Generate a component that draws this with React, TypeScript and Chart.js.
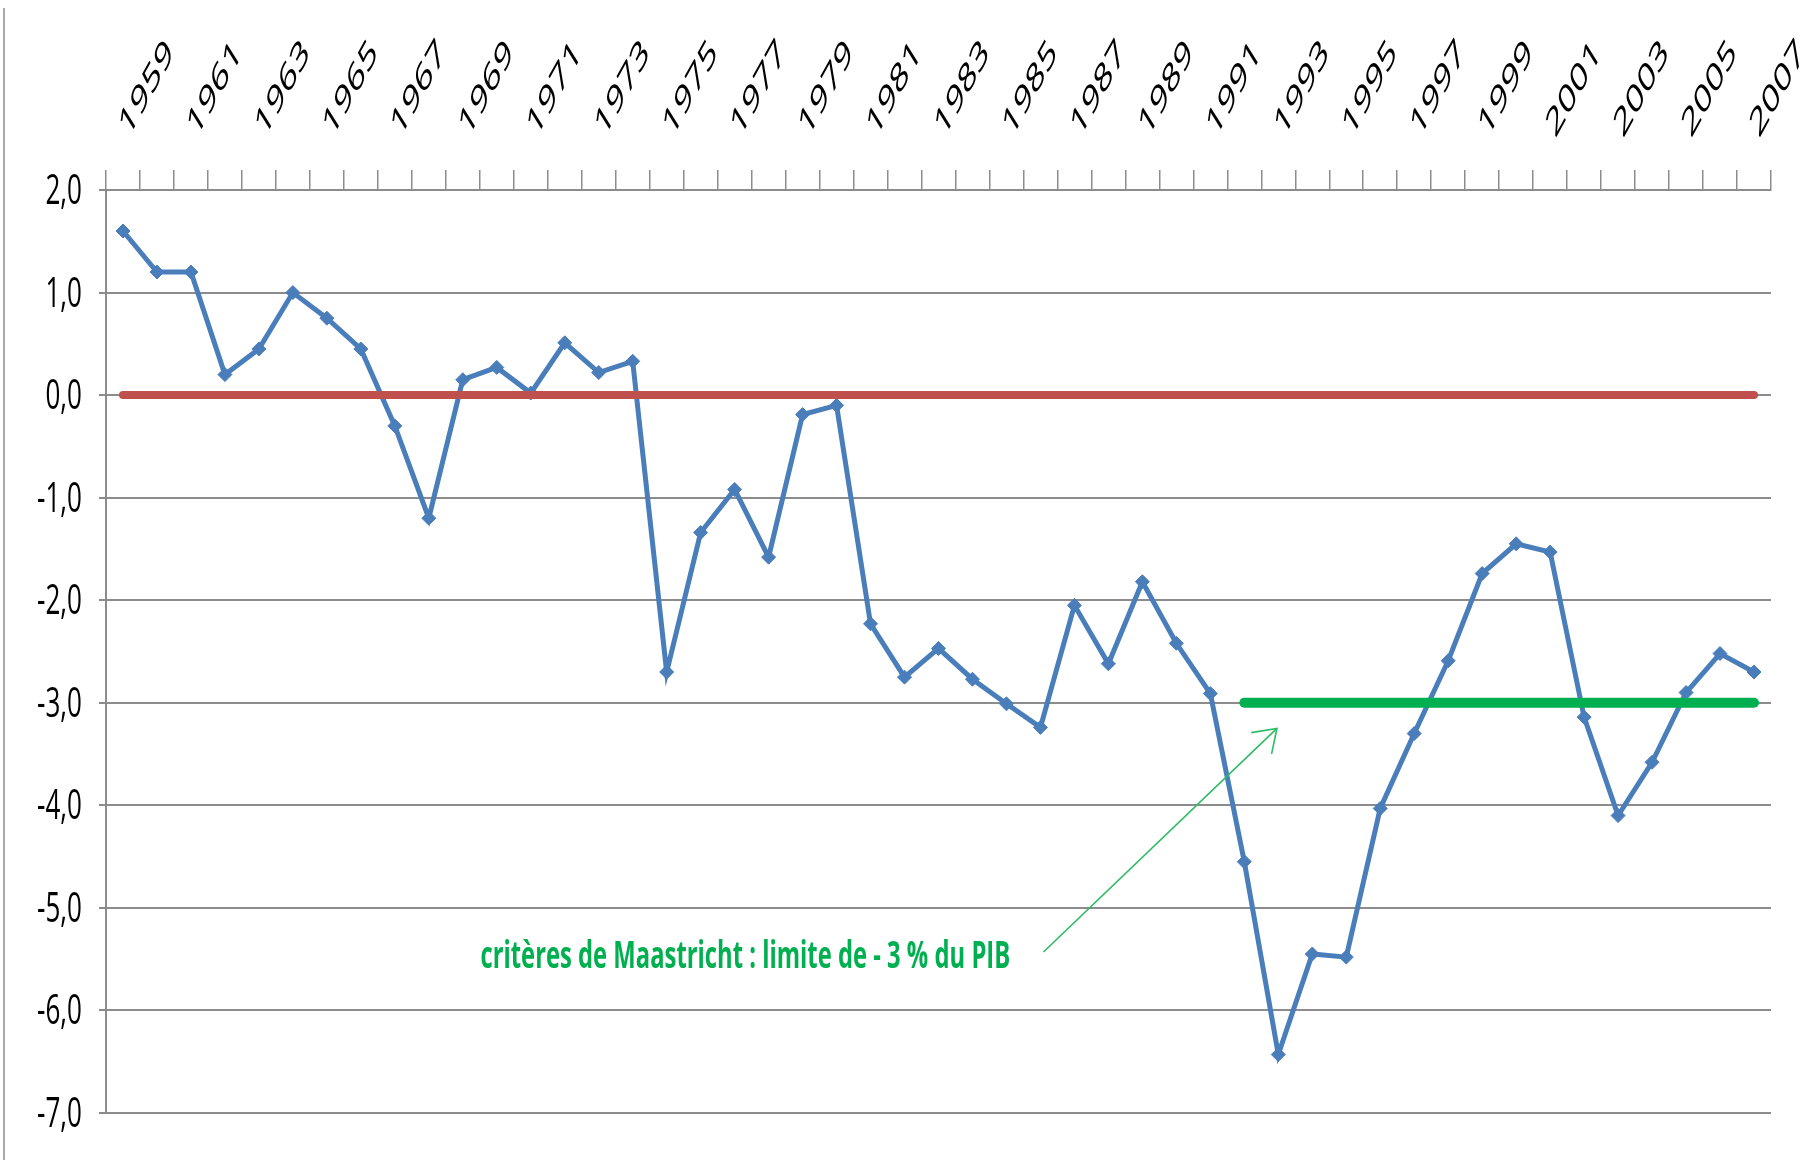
import React, { useEffect, useRef } from "react";
import { Chart, registerables } from "chart.js";

Chart.register(...registerables);

// ---------- data ----------
const years = [
  "1959", "1960", "1961", "1962", "1963", "1964", "1965", "1966", "1967", "1968",
  "1969", "1970", "1971", "1972", "1973", "1974", "1975", "1976", "1977", "1978",
  "1979", "1980", "1981", "1982", "1983", "1984", "1985", "1986", "1987", "1988",
  "1989", "1990", "1991", "1992", "1993", "1994", "1995", "1996", "1997", "1998",
  "1999", "2000", "2001", "2002", "2003", "2004", "2005", "2006", "2007",
];

const deficit = [
  1.6, 1.2, 1.2, 0.2, 0.45, 1.0, 0.75, 0.45, -0.3, -1.2,
  0.15, 0.27, 0.02, 0.51, 0.22, 0.33, -2.7, -1.34, -0.92, -1.58,
  -0.19, -0.1, -2.23, -2.75, -2.47, -2.77, -3.01, -3.24, -2.05, -2.62,
  -1.82, -2.42, -2.91, -4.55, -6.43, -5.45, -5.48, -4.03, -3.3, -2.59,
  -1.74, -1.45, -1.53, -3.14, -4.1, -3.58, -2.9, -2.52, -2.7,
];

const zeroLine = [
  { x: "1959", y: 0 },
  { x: "2007", y: 0 },
];

const maastrichtLine = [
  { x: "1992", y: -3 },
  { x: "2007", y: -3 },
];

const yMin = -7;
const yMax = 2;
const yStep = 1;

const noteText = "critères de Maastricht : limite de - 3 % du PIB";
// anchors in (category index, value) units
const noteSpan = [10.52, 26.11];
const noteBaseline = -5.59;
const arrowFrom = [27.09, -5.43];
const arrowTo = [33.96, -3.25];

// ---------- styles ----------
const BLUE = "#4A7EBB";
const RED = "#C0504D";
const GREEN = "#00B050";
const GRID = "#8c8c8c";
const LABEL_FONT = "'Open Sans', 'DejaVu Sans', sans-serif";

const fmt = (v: number) => v.toFixed(1).replace(".", ",");

// tick labels drawn with the stretched look of the original picture
const axisLabelPlugin = {
  id: "stretchedAxisLabels",
  afterDraw(chart: any) {
    const { ctx, scales } = chart;
    const xs = scales.x;
    const ys = scales.y;
    ctx.save();
    ctx.fillStyle = "#000";

    // y labels: tall, narrow
    ctx.font = `42px ${LABEL_FONT}`;
    ctx.textAlign = "right";
    ctx.textBaseline = "alphabetic";
    for (const t of ys.ticks) {
      const py = ys.getPixelForValue(t.value);
      ctx.save();
      ctx.translate(ys.right - 24, py + 14);
      ctx.scale(0.62, 1);
      ctx.fillText(fmt(t.value), 0, 0);
      ctx.restore();
    }

    // x labels: every other year, slanted
    ctx.font = `40px ${LABEL_FONT}`;
    ctx.textAlign = "left";
    ctx.textBaseline = "alphabetic";
    const w = ctx.measureText("1959").width;
    const len = 97;
    const ang = (61 * Math.PI) / 180;
    const e1x = (Math.cos(ang) * len) / w;
    const e1y = (-Math.sin(ang) * len) / w;
    const e2x = 0.408;
    const e2y = 0.649;
    const baseY = xs.bottom - 20 - 31;
    years.forEach((yr, i) => {
      if (i % 2 !== 0) return;
      const px = xs.getPixelForValue(i);
      ctx.save();
      ctx.translate(px + 5, baseY);
      ctx.transform(e1x, e1y, e2x, e2y, 0, 0);
      ctx.fillText(yr, 0, 0);
      ctx.restore();
    });
    ctx.restore();
  },
};

const notePlugin = {
  id: "maastrichtNote",
  afterDatasetsDraw(chart: any) {
    const { ctx, scales } = chart;
    const xs = scales.x;
    const ys = scales.y;
    ctx.save();
    // arrow
    const ax1 = xs.getPixelForValue(arrowFrom[0]);
    const ay1 = ys.getPixelForValue(arrowFrom[1]);
    const ax2 = xs.getPixelForValue(arrowTo[0]);
    const ay2 = ys.getPixelForValue(arrowTo[1]);
    ctx.strokeStyle = "#2dbb63";
    ctx.lineWidth = 1.6;
    ctx.beginPath();
    ctx.moveTo(ax1, ay1);
    ctx.lineTo(ax2, ay2);
    ctx.stroke();
    const ang = Math.atan2(ay1 - ay2, ax1 - ax2);
    const len = 26;
    const spread = 0.6;
    ctx.beginPath();
    ctx.moveTo(ax2 + len * Math.cos(ang - spread), ay2 + len * Math.sin(ang - spread));
    ctx.lineTo(ax2, ay2);
    ctx.lineTo(ax2 + len * Math.cos(ang + spread), ay2 + len * Math.sin(ang + spread));
    ctx.stroke();

    // text
    const tx1 = xs.getPixelForValue(noteSpan[0]);
    const tx2 = xs.getPixelForValue(noteSpan[1]);
    const ty = ys.getPixelForValue(noteBaseline);
    ctx.font = `bold 38px ${LABEL_FONT}`;
    ctx.fillStyle = GREEN;
    ctx.textAlign = "left";
    ctx.textBaseline = "alphabetic";
    const w = ctx.measureText(noteText).width;
    ctx.translate(tx1, ty);
    ctx.scale((tx2 - tx1) / w, 1);
    ctx.fillText(noteText, 0, 0);
    ctx.restore();
  },
};

export default function App() {
  const ref = useRef<HTMLCanvasElement | null>(null);

  useEffect(() => {
    if (!ref.current) return;
    const chart = new Chart(ref.current, {
      type: "line",
      data: {
        labels: years,
        datasets: [
          {
            label: "Maastricht",
            data: maastrichtLine as any,
            borderColor: GREEN,
            backgroundColor: GREEN,
            borderWidth: 10,
            borderCapStyle: "round",
            pointRadius: 0,
            order: 1,
          },
          {
            label: "zéro",
            data: zeroLine as any,
            borderColor: RED,
            backgroundColor: RED,
            borderWidth: 8,
            borderCapStyle: "round",
            pointRadius: 0,
            order: 2,
          },
          {
            label: "Solde",
            data: deficit,
            borderColor: BLUE,
            backgroundColor: BLUE,
            borderWidth: 5,
            pointStyle: "rectRot",
            pointRadius: 7,
            pointBorderWidth: 1,
            tension: 0,
            order: 3,
          },
        ],
      },
      options: {
        responsive: false,
        animation: false,
        layout: { padding: { left: 0, top: 0, right: 36, bottom: 47 } },
        plugins: {
          legend: { display: false },
          tooltip: { enabled: false },
        },
        scales: {
          x: {
            type: "category",
            position: "top",
            offset: true,
            grid: {
              offset: true,
              drawOnChartArea: false,
              drawTicks: true,
              tickLength: 20,
              color: GRID,
              lineWidth: 1.5,
            },
            border: { display: true, color: GRID, width: 2 },
            ticks: { display: false, autoSkip: false },
            afterFit: (s: any) => {
              s.height = 190;
              s.paddingLeft = 0;
              s.paddingRight = 0;
            },
          },
          y: {
            min: yMin,
            max: yMax,
            ticks: { stepSize: yStep, display: false },
            grid: { color: GRID, lineWidth: 2, tickLength: 7, drawTicks: true },
            border: { display: true, color: GRID, width: 2 },
            afterFit: (s: any) => {
              s.width = 106;
              s.paddingTop = 0;
              s.paddingBottom = 0;
            },
          },
        },
      },
      plugins: [notePlugin, axisLabelPlugin],
    });
    return () => chart.destroy();
  }, []);

  return (
    <div style={{ position: "absolute", left: 0, top: 0, width: 1807, height: 1160, background: "#fff" }}>
      <div
        style={{
          position: "absolute",
          left: 3,
          top: 8,
          width: 0,
          height: 1152,
          borderLeft: "2px solid #a8a8a8",
        }}
      />
      <canvas ref={ref} width={1807} height={1160} style={{ position: "absolute", left: 0, top: 0 }} />
    </div>
  );
}
